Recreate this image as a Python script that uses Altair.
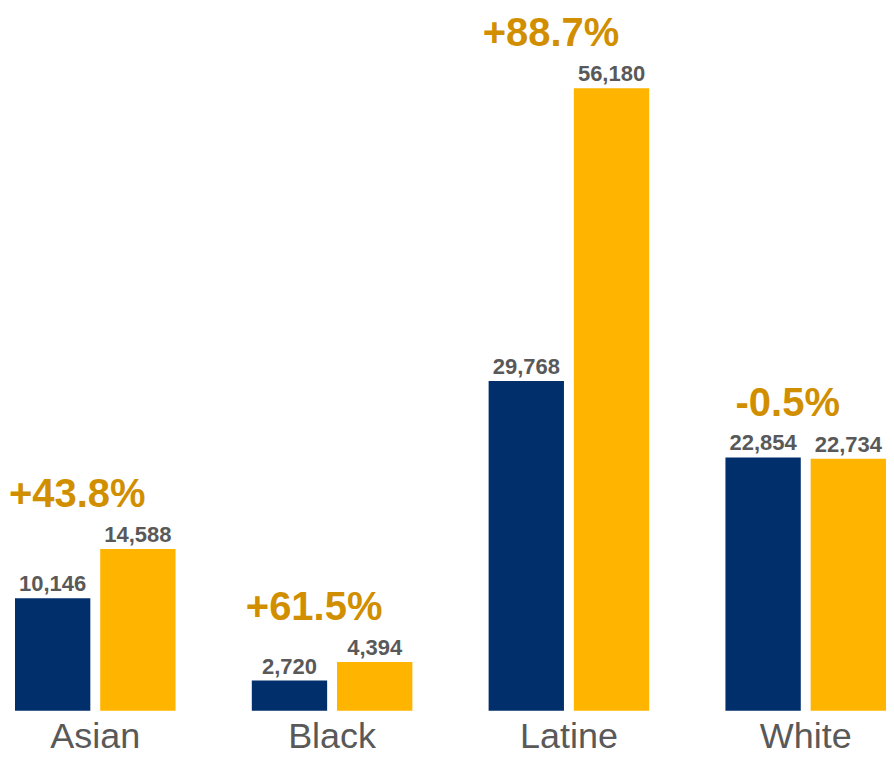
import altair as alt
import pandas as pd

categories = ["Asian", "Black", "Latine", "White"]
series = ["Earlier", "Later"]
earlier_values = [10146, 2720, 29768, 22854]
later_values = [14588, 4394, 56180, 22734]
pct_labels = ["+43.8%", "+61.5%", "+88.7%", "-0.5%"]

rows = []
for c, a, b in zip(categories, earlier_values, later_values):
    rows.append({"category": c, "series": series[0], "value": a, "label": f"{a:,}"})
    rows.append({"category": c, "series": series[1], "value": b, "label": f"{b:,}"})
bars_df = pd.DataFrame(rows)

pct_df = pd.DataFrame({
    "category": categories,
    "top": [max(a, b) for a, b in zip(earlier_values, later_values)],
    "pct": pct_labels,
})

FONT = "Liberation Sans"
GRAY = "#595959"
YMAX = 63393

x_enc = alt.X(
    "category:N",
    sort=categories,
    scale=alt.Scale(paddingInner=0.322, paddingOuter=0.01265, align=1),
    axis=alt.Axis(
        title=None, labelAngle=0, labelFontSize=36, labelColor=GRAY,
        labelFont=FONT, domain=False, ticks=False, labelPadding=9,
    ),
)
xoff = alt.XOffset("series:N", sort=series, scale=alt.Scale(paddingInner=0.116, paddingOuter=0))
y_enc = alt.Y("value:Q", scale=alt.Scale(domain=[0, YMAX], nice=False), axis=None)

bars = alt.Chart(bars_df).mark_bar().encode(
    x=x_enc,
    xOffset=xoff,
    y=y_enc,
    color=alt.Color(
        "series:N", sort=series,
        scale=alt.Scale(domain=series, range=["#002F6C", "#FFB500"]),
        legend=None,
    ),
)

values = alt.Chart(bars_df).mark_text(
    font=FONT, fontSize=22, fontWeight="bold", color=GRAY,
    baseline="alphabetic", dy=-7,
).encode(x=x_enc, xOffset=xoff, y=y_enc, text="label:N")

pcts = alt.Chart(pct_df).mark_text(
    font=FONT, fontSize=40, fontWeight="bold", color="#D18F00",
    baseline="alphabetic", dy=-42, dx=-18,
).encode(
    x=x_enc,
    y=alt.Y("top:Q", scale=alt.Scale(domain=[0, YMAX], nice=False), axis=None),
    text="pct:N",
)

chart = alt.layer(bars, values, pcts).properties(
    width=878, height=703, padding={"left": 0, "right": 0, "top": 0, "bottom": 0}
).configure_view(stroke=None)

chart.save("out.html", embed_options={"renderer": "svg", "actions": False})
